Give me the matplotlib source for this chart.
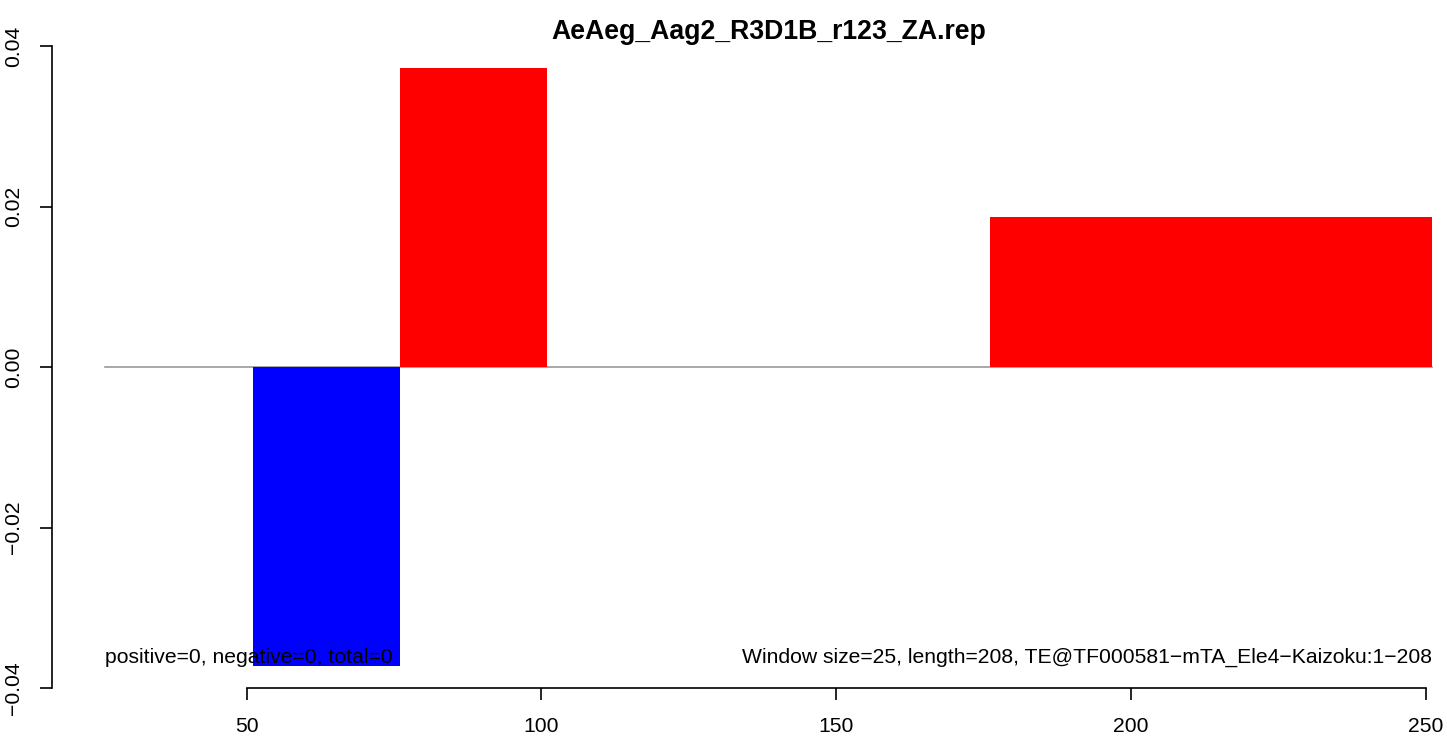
import matplotlib
matplotlib.use('Agg')
import matplotlib.pyplot as plt
import numpy as np

plt.rcParams['font.family'] = ['Liberation Sans', 'DejaVu Sans']

# окна по 25 нт, левые границы
bin_start = [26, 51, 76, 101, 126, 151, 176, 201, 226]
bin_value = [0, -0.0372, 0.0372, 0, 0, 0, 0.0187, 0.0187, 0.0187]
window = 25

title = 'AeAeg_Aag2_R3D1B_r123_ZA.rep'
left_note = 'positive=0, negative=0, total=0'
right_note = 'Window size=25, length=208, TE@TF000581\u2212mTA_Ele4\u2212Kaizoku:1\u2212208'
x_ticks = [50, 100, 150, 200, 250]
y_ticks = [-0.04, -0.02, 0.00, 0.02, 0.04]

W, H = 1447, 740
fig = plt.figure(figsize=(W / 100, H / 100), dpi=100)
ax = fig.add_axes([52 / W, (H - 688) / H, (1485 - 52) / W, (688 - 46) / H])

colors = ['red' if v > 0 else 'blue' for v in bin_value]
ax.plot([bin_start[0], bin_start[-1] + window], [0, 0], color='#9a9a9a', lw=1.2, zorder=1)
ax.bar(bin_start, bin_value, width=window, align='edge', color=colors, linewidth=0, zorder=2)

ax.set_xlim(17, 260)
ax.set_ylim(-0.04, 0.04)

for s in ['top', 'right']:
    ax.spines[s].set_visible(False)
ax.spines['left'].set_bounds(-0.04, 0.04)
ax.spines['bottom'].set_bounds(50, 250)
for s in ['left', 'bottom']:
    ax.spines[s].set_linewidth(1.2)

ax.set_xticks(x_ticks)
ax.set_xticklabels([str(t) for t in x_ticks])
ax.set_yticks(y_ticks)
ax.set_yticklabels([('%.2f' % t).replace('-', '\u2212') for t in y_ticks],
                   rotation=90, va='center')
ax.tick_params(length=8.6, width=1.2, labelsize=15.2, pad=12)

ax.text(bin_start[0], -0.0369, left_note, ha='left', va='baseline', fontsize=15.2, zorder=3)
ax.text(bin_start[-1] + window, -0.0369, right_note, ha='right', va='baseline',
        fontsize=15.2, zorder=3)

ax.set_title(title, fontsize=19.2, fontweight='bold', pad=5)

fig.savefig('out.png', dpi=100)
